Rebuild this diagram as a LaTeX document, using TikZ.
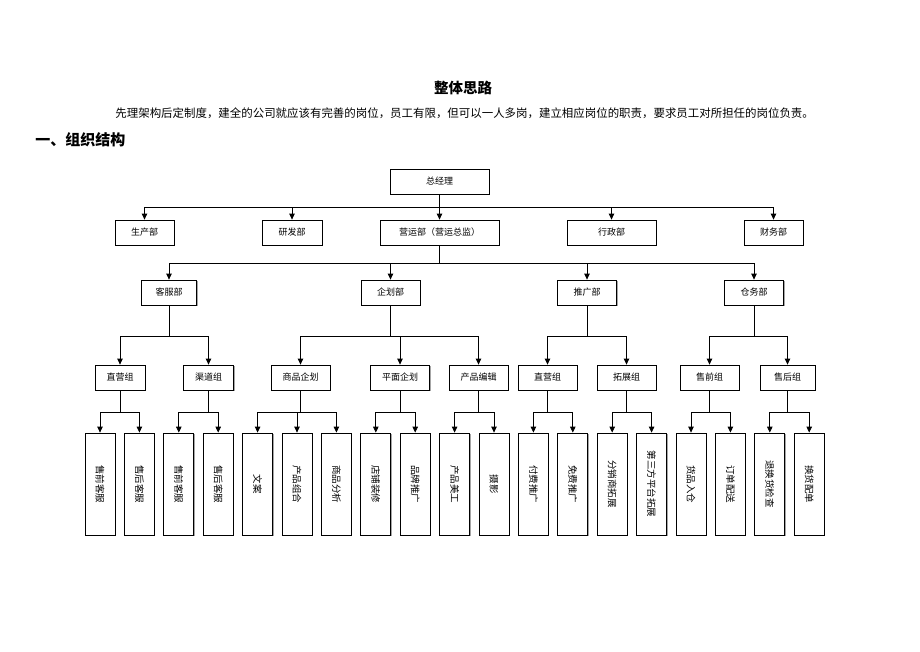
\documentclass[tikz,border=0pt]{standalone}
\usepackage{fontspec}
\setmainfont{Noto Sans CJK SC}
\usetikzlibrary{arrows.meta,shadows}

\begin{document}
\begin{tikzpicture}[x=1pt,y=-1pt,line width=0.8pt]
\tikzstyle{every node}+=[inner sep=0pt]
\tikzstyle{box}=[draw=black, fill=white, minimum height=25pt, font=\fontsize{9}{10}\selectfont,
  drop shadow={shadow xshift=1pt, shadow yshift=-1pt, fill=black!35, opacity=1}]
\tikzstyle{leaf}=[box, minimum width=30pt, minimum height=102pt, font=\fontsize{9.5}{10}\selectfont]
\tikzstyle{arr}=[-{Triangle[length=6pt,width=5.5pt]}]
\useasboundingbox (0,0) rectangle (920,651);
% heading
\node (bt) at (463,88) {\fontsize{14.5}{16}\selectfont\bfseries 整体思路};
\node[anchor=west] (sm) at (115,113) {\fontsize{11.45}{13}\selectfont 先理架构后定制度，建全的公司就应该有完善的岗位，员工有限，但可以一人多岗，建立相应岗位的职责，要求员工对所担任的岗位负责。};
\node[anchor=west] (yj) at (35,140) {\fontsize{15}{17}\selectfont\bfseries 一、组织结构};
% levels
\coordinate (y0) at (0,207);
\coordinate (y1) at (0,263);
\coordinate (y2) at (0,336);
\coordinate (y3) at (0,412);
\node[box, minimum width=99pt] (zjl) at (439.5,181.5) {总经理};
\node[box, minimum width=59pt] (scb) at (144.5,232.5) {生产部};
\node[box, minimum width=60pt] (yfb) at (292,232.5) {研发部};
\node[box, minimum width=119pt] (yyb) at (439.5,232.5) {营运部（营运总监）};
\node[box, minimum width=89pt] (xzb) at (611.5,232.5) {行政部};
\node[box, minimum width=59pt] (cwb) at (773.5,232.5) {财务部};
\node[box, minimum width=55pt] (kfb) at (169,292.5) {客服部};
\node[box, minimum width=59pt] (qhb) at (390.5,292.5) {企划部};
\node[box, minimum width=59pt] (tgb) at (587,292.5) {推广部};
\node[box, minimum width=59pt] (cb) at (754,292.5) {仓务部};
\node[box, minimum width=50pt] (zy1) at (120,377.5) {直营组};
\node[box, minimum width=50pt] (qd) at (208.5,377.5) {渠道组};
\node[box, minimum width=59pt] (sp) at (300.5,377.5) {商品企划};
\node[box, minimum width=59pt] (pm) at (400,377.5) {平面企划};
\node[box, minimum width=59pt] (bj) at (478.5,377.5) {产品编辑};
\node[box, minimum width=59pt] (zy2) at (547.5,377.5) {直营组};
\node[box, minimum width=59pt] (tz) at (626.5,377.5) {拓展组};
\node[box, minimum width=59pt] (sq) at (709.5,377.5) {售前组};
\node[box, minimum width=55pt] (sh) at (787.5,377.5) {售后组};
\foreach \t [count=\i] in {售前客服,售后客服,售前客服,售后客服,文案,产品组合,商品分析,店铺装修,品牌推广,
  产品美工,摄影,付费推广,免费推广,分销商拓展,第三方平台拓展,货品入仓,订单配送,退换货检查,换货配单}
  \node[leaf] (l\i) at ({100+39.4*(\i-1)},484) {\rotatebox{-90}{\t}};
% connectors
\foreach \p/\c in {zjl/scb, zjl/yfb, zjl/yyb, zjl/xzb, zjl/cwb}
  \draw[arr] (\p.south) -- (\p.south |- y0) -| (\c.north);
\foreach \p/\c in {yyb/kfb, yyb/qhb, yyb/tgb, yyb/cb}
  \draw[arr] (\p.south) -- (\p.south |- y1) -| (\c.north);
\foreach \p/\c in {kfb/zy1, kfb/qd, qhb/sp, qhb/pm, qhb/bj, tgb/zy2, tgb/tz, cb/sq, cb/sh}
  \draw[arr] (\p.south) -- (\p.south |- y2) -| (\c.north);
\foreach \p/\c in {zy1/1, zy1/2, qd/3, qd/4, sp/5, sp/6, sp/7, pm/8, pm/9, bj/10, bj/11,
  zy2/12, zy2/13, tz/14, tz/15, sq/16, sq/17, sh/18, sh/19}
  \draw[arr] (\p.south) -- (\p.south |- y3) -| (l\c.north);
\end{tikzpicture}
\end{document}
